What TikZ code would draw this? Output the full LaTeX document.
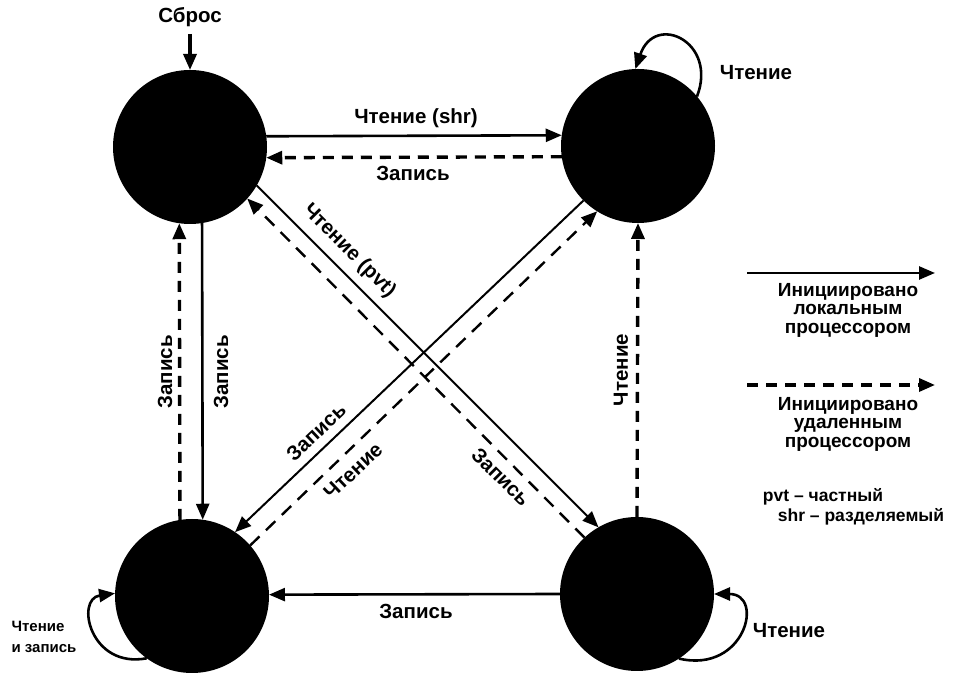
\documentclass[tikz,border=0pt]{standalone}
\usepackage{fontspec}
\setmainfont{Liberation Sans}
\usetikzlibrary{arrows.meta}
\begin{document}
\begin{tikzpicture}[x=1pt,y=1pt,
  state/.style={circle,fill=black,minimum size=154pt,inner sep=0pt,outer sep=0pt},
  lbl/.style={font=\fontsize{20.5}{21}\selectfont\bfseries,inner sep=1pt},
  small/.style={font=\fontsize{15}{21}\selectfont\bfseries,inner sep=1pt,align=left},
  leg/.style={font=\fontsize{19}{18.5}\selectfont\bfseries,inner sep=1pt,align=center},
  tip/.style={-{Triangle[length=16pt,width=13pt]}},
  loc/.style={line width=2.6pt,tip},
  locd/.style={line width=2pt,tip},
  rem/.style={line width=3.4pt,dash pattern=on 11pt off 8pt,tip},
  remd/.style={line width=2.4pt,dash pattern=on 13pt off 9pt,tip}
]
\useasboundingbox (0,0) rectangle (954,674);
% states
\node[state] (TL) at (190,527) {};
\node[state] (TR) at (638,528) {};
\node[state] (BL) at (192,78) {};
\node[state] (BR) at (637,80) {};
% reset
\node[lbl] (reset) at (190,657) {Сброс};
\coordinate (resetstart) at (190,640);
\draw[loc,line width=3.4pt] (resetstart) -- (TL.90);
% top pair
\draw[loc] (TL.8) -- (TR.172);
\draw[rem] (TR.188) -- (TL.352);
\node[lbl] (l1) at (416,556) {Чтение (shr)};
\node[lbl] (l2) at (413,501) {Запись};
% left pair
\draw[loc] (TL.279) -- (BL.82.5);
\draw[rem] (BL.99) -- (TL.262.5);
\node[lbl,rotate=90] (l3) at (165,302) {Запись};
\node[lbl,rotate=90] (l4) at (221,302) {Запись};
% diagonals TL-BR
\draw[locd] (TL.330) -- (BR.120);
\draw[remd] (BR.133) -- (TL.318);
\node[lbl,rotate=-45] (l5) at (349,423) {Чтение (pvt)};
\node[lbl,rotate=-45] (l6) at (501,197) {Запись};
% diagonals TR-BL
\draw[locd] (TR.225) -- (BL.56);
\draw[remd] (BL.41) -- (TR.238);
\node[lbl,rotate=43.5] (l7) at (316,242) {Запись};
\node[lbl,rotate=43.5] (l8) at (353,203) {Чтение};
% right
\draw[rem] (BR.90) -- (TR.270);
\node[lbl,rotate=90] (l9) at (621,304) {Чтение};
% bottom
\draw[loc] (BR.180) -- (BL.1);
\node[lbl] (l10) at (416,63) {Запись};
% self loops
\draw[loc] (TR.40) .. controls (718,632) and (655,662) .. (TR.92);
\node[lbl] (l11) at (756,601) {Чтение};
\draw[loc] (BL.234) .. controls (90,5) and (75,75) .. (BL.178);
\node[small] (l12) at (44,37) {Чтение\\и запись};
\draw[loc] (BR.303) .. controls (745,0) and (765,80) .. (BR.0);
\node[lbl] (l13) at (789,43) {Чтение};
% legend
\coordinate (ls1) at (747,401);
\coordinate (le1) at (935,401);
\draw[loc] (ls1) -- (le1);
\node[leg] (t1) at (848,364) {Инициировано\\локальным\\процессором};
\coordinate (ls2) at (747,289);
\coordinate (le2) at (935,289);
\draw[rem] (ls2) -- (le2);
\node[leg] (t2) at (848,250) {Инициировано\\удаленным\\процессором};
\node[lbl,font=\fontsize{17.5}{18}\selectfont\bfseries] (t3) at (823,177) {pvt – частный};
\node[lbl,font=\fontsize{17.5}{18}\selectfont\bfseries] (t4) at (861,157) {shr – разделяемый};
\end{tikzpicture}
\end{document}
